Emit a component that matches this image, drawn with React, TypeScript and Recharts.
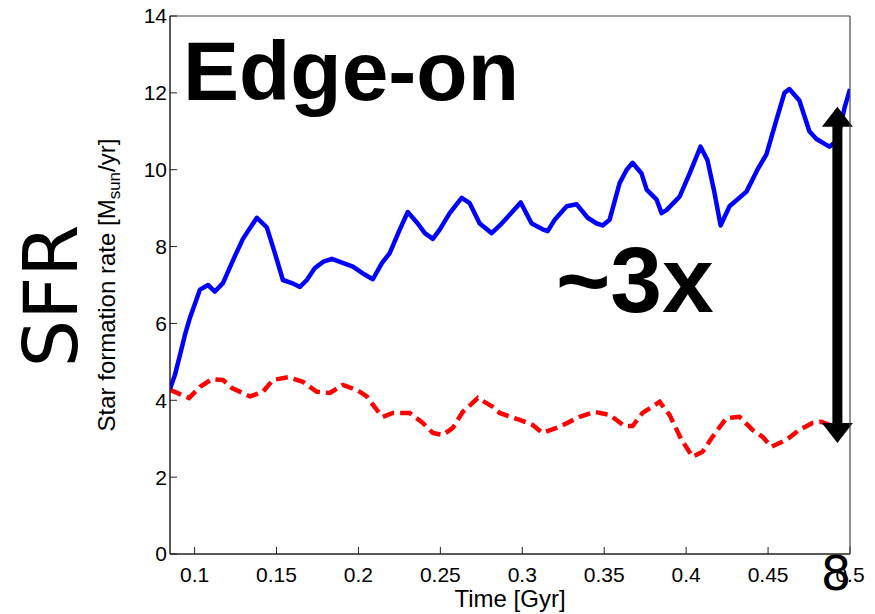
import { LineChart, Line, XAxis, YAxis, ReferenceLine } from 'recharts';

// axis ticks
const timeTicks = [0.1, 0.15, 0.2, 0.25, 0.3, 0.35, 0.4, 0.45, 0.5];
const sfrTicks = [0, 2, 4, 6, 8, 10, 12, 14];

// blue solid curve (edge-on)
const edgeOnTime = [
  0.085, 0.088, 0.0911, 0.0941, 0.0972, 0.1033, 0.1082, 0.1124, 0.1173, 0.1246,
  0.1295, 0.138, 0.1441, 0.149, 0.1539, 0.1594, 0.1643, 0.1685, 0.1734, 0.1783,
  0.1838, 0.1966, 0.2027, 0.2088, 0.2143, 0.2191, 0.2252, 0.2301, 0.2362, 0.2405,
  0.2454, 0.2496, 0.2557, 0.263, 0.2679, 0.274, 0.2813, 0.2874, 0.2923, 0.299,
  0.3057, 0.3124, 0.3155, 0.3198, 0.3271, 0.3332, 0.3399, 0.3454, 0.349, 0.3533,
  0.3594, 0.3637, 0.3673, 0.3728, 0.3759, 0.382, 0.385, 0.388, 0.396, 0.4021,
  0.4088, 0.413, 0.4173, 0.421, 0.4265, 0.4368, 0.4435, 0.449, 0.4551, 0.46,
  0.463, 0.4691, 0.4752, 0.4795, 0.4874, 0.4923, 0.4966, 0.5,
];
const edgeOnSfr = [
  4.3, 4.66, 5.18, 5.7, 6.15, 6.88, 7.0, 6.83, 7.05, 7.75,
  8.2, 8.75, 8.5, 7.83, 7.13, 7.05, 6.95, 7.13, 7.44, 7.6,
  7.68, 7.48, 7.3, 7.15, 7.57, 7.83, 8.44, 8.9, 8.6, 8.35,
  8.2, 8.44, 8.87, 9.27, 9.13, 8.6, 8.35, 8.6, 8.83, 9.15,
  8.6, 8.45, 8.4, 8.7, 9.05, 9.1, 8.75, 8.6, 8.55, 8.7,
  9.65, 10.0, 10.18, 9.9, 9.48, 9.22, 8.87, 8.95, 9.3, 9.9,
  10.6, 10.25, 9.4, 8.55, 9.05, 9.43, 10.0, 10.4, 11.3, 12.0,
  12.1, 11.8, 11.0, 10.8, 10.6, 10.75, 11.6, 12.1,
];

// red dashed curve
const otherTime = [
  0.085, 0.0966, 0.1033, 0.1106, 0.1173, 0.1228, 0.1338, 0.1417, 0.1478, 0.157,
  0.1661, 0.1746, 0.1826, 0.1905, 0.199, 0.2051, 0.2112, 0.2149, 0.221, 0.2313,
  0.2393, 0.2454, 0.2515, 0.2576, 0.2637, 0.2728, 0.282, 0.2862, 0.2984, 0.3063,
  0.3124, 0.3228, 0.335, 0.3441, 0.3533, 0.3624, 0.3673, 0.3734, 0.3838, 0.3899,
  0.3972, 0.4039, 0.41, 0.4161, 0.4246, 0.4326, 0.4405, 0.4466, 0.4521, 0.4612,
  0.4691, 0.4771, 0.4826, 0.4874, 0.4935, 0.5,
];
const otherSfr = [
  4.27, 4.06, 4.35, 4.55, 4.53, 4.32, 4.1, 4.22, 4.53, 4.6,
  4.48, 4.22, 4.19, 4.4, 4.27, 4.1, 3.75, 3.57, 3.67, 3.67,
  3.41, 3.15, 3.1, 3.28, 3.7, 4.06, 3.83, 3.67, 3.49, 3.36,
  3.15, 3.31, 3.57, 3.7, 3.62, 3.33, 3.33, 3.67, 3.96, 3.62,
  2.97, 2.53, 2.66, 3.05, 3.54, 3.57, 3.23, 3.05, 2.79, 2.97,
  3.23, 3.41, 3.44, 3.36, 3.3, 3.35,
];

// the "~3x" double arrow, in data units
const arrowTime = 0.4923;
const arrowTop = 11.64;
const arrowBottom = 2.89;

const edgeOnData = edgeOnTime.map((t, i) => ({ t, sfr: edgeOnSfr[i] }));
const otherData = otherTime.map((t, i) => ({ t, sfr: otherSfr[i] }));

const sans = '"Liberation Sans", Arial, Helvetica, sans-serif';
const tickStyle = { fill: '#000', fontSize: 21, fontFamily: sans };
const axisStyle = { stroke: '#222', strokeWidth: 1.5 };

function DoubleArrow(props: any) {
  const { x1, y1, y2 } = props;
  const top = Math.min(y1, y2);
  const bot = Math.max(y1, y2);
  const head = 20;
  const half = 15.5;
  return (
    <g fill="#000">
      <rect x={x1 - 5} y={top + head - 1} width={10} height={bot - top - 2 * head + 2} />
      <polygon points={`${x1},${top} ${x1 - half},${top + head} ${x1 + half},${top + head}`} />
      <polygon points={`${x1},${bot} ${x1 - half},${bot - head} ${x1 + half},${bot - head}`} />
    </g>
  );
}

export default function App() {
  return (
    <div style={{ position: 'absolute', left: 0, top: 0, width: 875, height: 614, background: '#fff' }}>
      <LineChart width={875} height={614} margin={{ top: 15, right: 24, bottom: 0, left: 0 }}>
        <XAxis
          type="number"
          dataKey="t"
          domain={[0.085, 0.5]}
          ticks={timeTicks}
          allowDataOverflow
          height={60}
          tickSize={-7}
          tickMargin={20}
          tick={tickStyle}
          axisLine={axisStyle}
          tickLine={{ stroke: '#222' }}
        />
        <XAxis
          xAxisId="top"
          orientation="top"
          type="number"
          dataKey="t"
          domain={[0.085, 0.5]}
          ticks={timeTicks}
          allowDataOverflow
          height={1}
          tickSize={-7}
          tick={false}
          axisLine={{ stroke: '#444', strokeWidth: 1.2 }}
          tickLine={{ stroke: '#444' }}
        />
        <YAxis
          type="number"
          domain={[0, 14]}
          ticks={sfrTicks}
          allowDataOverflow
          width={170}
          tickSize={-7}
          tickMargin={10}
          tick={tickStyle}
          axisLine={axisStyle}
          tickLine={{ stroke: '#222' }}
        />
        <YAxis
          yAxisId="right"
          orientation="right"
          type="number"
          domain={[0, 14]}
          ticks={sfrTicks}
          width={1}
          tickSize={-7}
          tick={false}
          axisLine={{ stroke: '#444', strokeWidth: 1.2 }}
          tickLine={{ stroke: '#444' }}
        />
        <Line
          data={otherData}
          dataKey="sfr"
          type="linear"
          stroke="#ff0000"
          strokeWidth={4.5}
          strokeDasharray="12 6"
          dot={false}
          isAnimationActive={false}
        />
        <Line
          data={edgeOnData}
          dataKey="sfr"
          type="linear"
          stroke="#0000ff"
          strokeWidth={4.5}
          strokeLinejoin="round"
          dot={false}
          isAnimationActive={false}
        />
        <ReferenceLine
          segment={[{ x: arrowTime, y: arrowTop }, { x: arrowTime, y: arrowBottom }]}
          shape={DoubleArrow}
          ifOverflow="visible"
        />
      </LineChart>

      {/* slide annotations and axis titles */}
      <svg
        width={875}
        height={614}
        style={{ position: 'absolute', left: 0, top: 0, pointerEvents: 'none' }}
      >
        <text x={183} y={100} fontFamily={sans} fontWeight="bold" fontSize={84} fill="#000">
          Edge-on
        </text>
        <text x={556} y={312} fontFamily={sans} fontWeight="bold" fontSize={93} fill="#000">
          ~3x
        </text>
        <text
          x={77}
          y={296}
          transform="rotate(-90, 77, 296)"
          textAnchor="middle"
          fontFamily='"DejaVu Sans", sans-serif'
          fontSize={75}
          fill="#000"
        >
          SFR
        </text>
        <text
          x={115}
          y={285}
          transform="rotate(-90, 115, 285)"
          textAnchor="middle"
          fontFamily={sans}
          fontSize={24}
          fill="#000"
        >
          <tspan>Star formation rate [M</tspan>
          <tspan fontSize={17} dy={5}>sun</tspan>
          <tspan dy={-5}>/yr]</tspan>
        </text>
        <text x={510} y={607} textAnchor="middle" fontFamily={sans} fontSize={24} fill="#000">
          Time [Gyr]
        </text>
        <text
          x={836}
          y={590}
          textAnchor="middle"
          fontFamily='"DejaVu Sans", sans-serif'
          fontSize={48}
          fill="#000"
        >
          8
        </text>
      </svg>
    </div>
  );
}
